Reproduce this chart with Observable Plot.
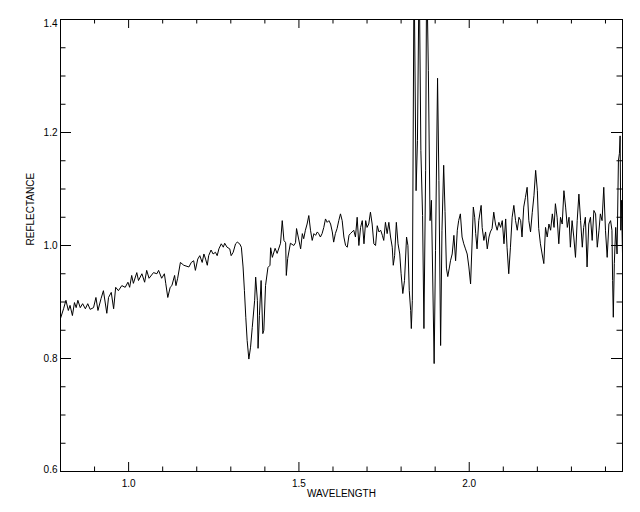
<!DOCTYPE html>
<html>
<head>
<meta charset="utf-8">
<script src="https://cdn.jsdelivr.net/npm/d3@7"></script>
<script src="https://cdn.jsdelivr.net/npm/@observablehq/plot@0.6"></script>
<style>
  html, body { margin: 0; padding: 0; background: #fff; }
  #chart svg { display: block; }
</style>
</head>
<body>
<div id="chart"></div>
<script>
// ---- data ----
const wavelength = [
  0.800,0.809,0.816,0.823,0.828,0.835,0.841,0.846,0.851,0.858,0.865,0.873,0.880,0.887,0.897,0.904,0.910,0.919,0.926,0.936,
  0.941,0.949,0.956,0.962,0.970,0.980,0.990,0.998,1.003,1.009,1.014,1.024,1.029,1.039,1.047,1.053,1.060,1.073,1.083,1.088,
  1.097,1.105,1.109,1.115,1.122,1.127,1.135,1.139,1.144,
  1.152,1.162,1.177,1.184,1.191,1.196,1.203,1.209,1.216,1.221,1.226,1.231,1.235,1.242,1.248,1.255,1.260,1.265,1.272,1.278,
  1.282,1.289,1.297,1.301,1.307,1.314,1.319,1.326,1.331,1.336,1.340,1.344,1.348,1.353,1.358,1.363,1.370,1.373,1.378,1.380,
  1.384,1.389,1.394,1.397,1.402,1.409,1.415,1.417,1.422,1.430,1.436,1.446,1.451,1.456,1.461,1.463,1.467,1.475,1.485,1.490,
  1.493,
  1.505,1.510,1.514,1.519,1.524,1.529,1.534,1.539,1.544,1.549,1.554,1.558,1.563,1.568,1.573,1.578,1.583,1.588,1.593,1.598,
  1.602,1.607,1.612,1.617,1.622,1.627,1.632,1.637,1.642,1.647,1.651,1.656,1.661,1.666,1.671,1.676,1.681,1.686,1.691,1.696,
  1.700,1.705,1.710,1.715,1.720,1.725,1.730,1.735,1.740,1.745,1.749,1.754,1.759,1.764,1.769,1.774,1.777,1.781,1.786,1.791,
  1.796,1.800,1.805,1.810,1.816,1.820,1.824,1.828,
  1.830,1.833,1.838,1.844,1.848,1.853,1.858,1.863,1.867,1.872,1.875,1.880,1.885,1.889,1.897,1.901,1.907,1.911,1.916,1.920,
  1.925,1.929,1.933,
  1.937,1.942,1.945,1.950,1.955,1.960,1.965,1.969,1.974,1.979,1.984,1.989,1.994,1.999,2.004,2.009,2.012,2.016,2.019,2.023,
  2.028,2.035,2.038,2.043,2.048,2.053,2.058,2.062,2.067,2.072,2.077,2.082,2.087,2.092,2.097,2.102,2.107,2.111,2.116,2.121,
  2.126,2.131,2.136,2.141,2.146,2.151,2.155,2.160,2.165,2.170,2.175,2.180,
  2.185,2.190,2.195,2.200,2.204,2.209,2.214,2.219,2.224,2.229,2.234,2.239,2.244,2.249,2.253,2.258,2.263,2.268,2.273,2.278,
  2.283,2.288,2.293,2.297,2.302,2.307,2.312,2.317,2.322,2.327,2.332,2.336,2.341,2.346,2.351,2.356,2.361,2.366,2.371,2.376,
  2.381,2.385,2.390,2.395,2.400,2.405,2.410,2.415,2.419,2.421,2.423,2.426,2.430,2.434,2.438,2.441,2.443,2.445,2.447,2.450
];
const reflectance = [
  0.871,0.888,0.903,0.885,0.894,0.876,0.899,0.890,0.903,0.890,0.897,0.888,0.897,0.887,0.890,0.908,0.885,0.906,0.920,0.880,
  0.908,0.917,0.888,0.926,0.920,0.929,0.926,0.935,0.926,0.947,0.933,0.952,0.938,0.950,0.935,0.956,0.942,0.952,0.950,0.956,
  0.942,0.950,0.933,0.908,0.926,0.929,0.947,0.929,0.942,
  0.970,0.965,0.962,0.970,0.973,0.956,0.976,0.982,0.970,0.985,0.976,0.965,0.982,0.992,0.985,0.988,0.982,0.994,1.003,0.997,
  1.004,0.997,0.994,0.982,0.988,1.003,1.006,1.003,0.997,0.962,0.920,0.873,0.832,0.799,0.820,0.855,0.903,0.944,0.903,0.818,
  0.876,0.938,0.844,0.850,0.929,0.961,0.965,0.996,0.979,0.995,0.986,1.004,1.044,1.009,1.005,0.947,0.977,1.004,1.000,1.005,
  1.030,
  0.994,1.021,1.012,1.027,1.038,1.053,1.027,1.009,1.021,1.018,1.024,1.021,1.015,1.021,1.032,1.047,1.041,1.044,1.038,1.024,
  1.006,1.021,1.030,1.044,1.056,1.044,1.015,1.000,0.997,1.018,1.021,1.024,1.027,1.015,1.050,1.000,1.032,1.044,1.003,1.044,
  1.032,1.038,1.059,1.038,1.003,1.000,1.035,1.024,1.027,1.018,1.009,1.041,1.021,1.041,1.015,0.997,0.965,0.982,1.041,1.003,
  0.985,0.950,0.915,0.938,1.015,1.000,0.920,0.885,
  0.853,0.903,1.500,1.097,1.186,1.500,1.168,1.053,0.853,1.133,1.500,1.310,1.044,1.080,0.791,0.991,1.296,1.115,0.823,1.027,
  1.142,1.060,0.960,
  0.945,0.962,0.973,0.985,1.018,0.973,1.027,1.044,1.056,1.015,1.003,0.994,0.985,0.962,0.932,1.015,1.068,1.050,1.021,0.994,
  1.044,1.071,1.032,1.009,1.024,0.994,1.015,1.024,1.030,1.059,1.038,1.027,1.041,1.032,1.044,1.003,1.047,0.997,0.950,0.997,
  1.050,1.071,1.044,1.027,1.050,1.044,1.015,1.068,1.085,1.103,1.044,1.024,
  1.058,1.088,1.133,1.097,1.030,1.003,0.985,0.968,1.032,1.015,1.038,1.027,1.056,1.032,1.074,1.050,1.003,1.050,1.038,1.097,
  1.068,1.032,1.050,0.997,1.044,1.015,0.979,1.044,1.091,1.044,0.997,1.032,1.050,0.962,1.038,1.050,1.009,1.062,1.056,0.997,
  1.027,1.056,1.044,1.103,1.027,0.979,1.038,1.044,1.027,0.938,0.873,0.968,1.032,0.985,1.150,1.163,1.194,1.027,1.080,0.986
];

const xDomain = [0.8, 2.45];
const yDomain = [0.6, 1.4];
const xMajorTicks = [1.0, 1.5, 2.0];
const xMinorTicks = [0.9, 1.1, 1.2, 1.3, 1.4, 1.6, 1.7, 1.8, 1.9, 2.1, 2.2, 2.3, 2.4];
const yMajorTicks = [0.6, 0.8, 1.0, 1.2, 1.4];
const yMinorTicks = [0.65, 0.7, 0.75, 0.85, 0.9, 0.95, 1.05, 1.1, 1.15, 1.25, 1.3, 1.35];
const yInnerLabels = [0.8, 1.0, 1.2];
const yTopLabel = [1.4];
const yBottomLabel = [0.6];
const xTitle = "WAVELENGTH";
const yTitle = "REFLECTANCE";

// ---- layout ----
const W = 640, H = 512;
const mL = 60, mR = 18, mT = 19, mB = 41;
const plotW = W - mL - mR, plotH = H - mT - mB;
const pxX = (xDomain[1] - xDomain[0]) / plotW;  // data units per pixel (x)
const pxY = (yDomain[1] - yDomain[0]) / plotH;  // data units per pixel (y)
const xMajLen = 9, xMinLen = 4.5, yMajLen = 11, yMinLen = 5.5;

const data = wavelength.map((w, i) => ({w, r: reflectance[i]}));
const fmt = d3.format(".1f");

const tickStyle = {stroke: "black", strokeWidth: 1};

const chart = Plot.plot({
  width: W,
  height: H,
  marginLeft: mL,
  marginRight: mR,
  marginTop: mT,
  marginBottom: mB,
  style: {fontFamily: "'Liberation Sans', Arial, Helvetica, sans-serif", fontSize: "10px", color: "black", background: "white"},
  x: {domain: xDomain, label: null},
  y: {domain: yDomain, label: null},
  marks: [
    // data line
    Plot.line(data, {x: "w", y: "r", stroke: "black", strokeWidth: 1, clip: true}),
    // bottom / top ticks
    Plot.ruleX(xMajorTicks, {x: d => d, y1: yDomain[0], y2: yDomain[0] + xMajLen * pxY, ...tickStyle}),
    Plot.ruleX(xMinorTicks, {x: d => d, y1: yDomain[0], y2: yDomain[0] + xMinLen * pxY, ...tickStyle}),
    Plot.ruleX(xMajorTicks, {x: d => d, y1: yDomain[1], y2: yDomain[1] - xMajLen * pxY, ...tickStyle}),
    Plot.ruleX(xMinorTicks, {x: d => d, y1: yDomain[1], y2: yDomain[1] - xMinLen * pxY, ...tickStyle}),
    // left / right ticks
    Plot.ruleY(yMajorTicks, {y: d => d, x1: xDomain[0], x2: xDomain[0] + yMajLen * pxX, ...tickStyle}),
    Plot.ruleY(yMinorTicks, {y: d => d, x1: xDomain[0], x2: xDomain[0] + yMinLen * pxX, ...tickStyle}),
    Plot.ruleY(yMajorTicks, {y: d => d, x1: xDomain[1], x2: xDomain[1] - yMajLen * pxX, ...tickStyle}),
    Plot.ruleY(yMinorTicks, {y: d => d, x1: xDomain[1], x2: xDomain[1] - yMinLen * pxX, ...tickStyle}),
    // tick labels
    Plot.axisX({ticks: xMajorTicks, tickSize: 0, tickPadding: 8, tickFormat: fmt, label: null, fill: "black"}),
    Plot.axisY({ticks: yInnerLabels, tickSize: 0, tickPadding: 3, tickFormat: fmt, label: null, fill: "black"}),
    Plot.axisY({ticks: yTopLabel, tickSize: 0, tickPadding: 3, tickFormat: fmt, label: null, fill: "black", dy: 4}),
    Plot.axisY({ticks: yBottomLabel, tickSize: 0, tickPadding: 3, tickFormat: fmt, label: null, fill: "black", dy: -2}),
    // axis titles
    Plot.text([xTitle], {text: d => d, frameAnchor: "bottom", dy: 25, fill: "black"}),
    Plot.text([yTitle], {text: d => d, frameAnchor: "left", dx: -30, rotate: -90, fill: "black"}),
    // frame
    Plot.frame({stroke: "black", strokeWidth: 1})
  ]
});

document.getElementById("chart").appendChild(chart);
</script>
</body>
</html>
